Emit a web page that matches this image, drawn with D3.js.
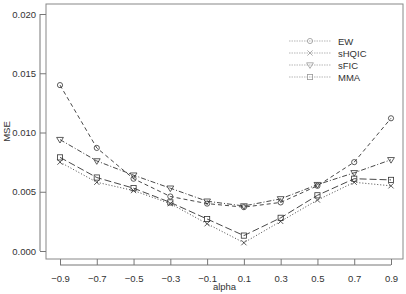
<!DOCTYPE html>
<html>
<head>
<meta charset="utf-8">
<script src="https://cdn.jsdelivr.net/npm/d3@7"></script>
<style>
  body { margin: 0; background: #fff; }
  text { font-family: "Liberation Sans", Arial, sans-serif; }
</style>
</head>
<body>
<div id="chart"></div>
<script>
// values
const alphas = [-0.9, -0.7, -0.5, -0.3, -0.1, 0.1, 0.3, 0.5, 0.7, 0.9];
const ew    = [0.0140, 0.0087, 0.0061, 0.0046, 0.0040, 0.0037, 0.0041, 0.0055, 0.0075, 0.0112];
const shqic = [0.0075, 0.0058, 0.0051, 0.0040, 0.0023, 0.0007, 0.0025, 0.0043, 0.0058, 0.0055];
const sfic  = [0.0094, 0.0076, 0.0064, 0.0053, 0.0042, 0.0038, 0.0044, 0.0056, 0.0066, 0.0077];
const mma   = [0.0079, 0.0062, 0.0053, 0.0041, 0.0027, 0.0013, 0.0028, 0.0047, 0.0061, 0.0060];
const seriesNames = ["EW", "sHQIC", "sFIC", "MMA"];
const yTicks = [0, 0.005, 0.010, 0.015, 0.020];

const series = [
    { name: "EW", values: ew, dash: "4,3", symbol: "circle" },
    { name: "sHQIC", values: shqic, dash: "1,2", symbol: "cross" },
    { name: "sFIC", values: sfic, dash: "5,2,1,2", symbol: "triangle" },
    { name: "MMA", values: mma, dash: "7,3", symbol: "square" }
];

const width = 406, height = 294;
const box = { left: 46, right: 403, top: 4, bottom: 259 };
const ink = "#333";
const axisCol = "#777";

const svg = d3.select("#chart").append("svg")
    .attr("width", width)
    .attr("height", height);

const x = d3.scaleLinear().domain([-0.9, 0.9]).range([60, 391]);
const y = d3.scaleLinear().domain([0, 0.020]).range([251, 14]);

// plot frame
svg.append("rect")
    .attr("x", box.left).attr("y", box.top)
    .attr("width", box.right - box.left).attr("height", box.bottom - box.top)
    .attr("fill", "none").attr("stroke", "#888").attr("stroke-width", 1);

// y axis
const yAxis = svg.append("g")
    .attr("transform", `translate(${box.left - 6},0)`)
    .call(d3.axisLeft(y).tickValues(yTicks).tickFormat(d3.format(".3f")).tickSize(6).tickPadding(4));
yAxis.select(".domain").remove();
yAxis.selectAll(".tick line").attr("stroke", axisCol).attr("transform", "translate(6,0)");
yAxis.selectAll(".tick text").attr("transform", "translate(6,0)")
    .attr("fill", ink).style("font-size", "9.5px");
svg.append("line")
    .attr("x1", box.left - 6).attr("x2", box.left - 6)
    .attr("y1", y(0)).attr("y2", y(0.020))
    .attr("stroke", axisCol);

// x axis
const xAxis = svg.append("g")
    .attr("transform", `translate(0,${box.bottom + 6})`)
    .call(d3.axisBottom(x).tickValues(alphas).tickFormat(d3.format(".1f")).tickSize(6).tickPadding(4));
xAxis.select(".domain").remove();
xAxis.selectAll(".tick line").attr("stroke", axisCol).attr("y1", 0).attr("y2", -6);
xAxis.selectAll(".tick text").attr("fill", ink).style("font-size", "9.5px");
svg.append("line")
    .attr("x1", x(-0.9)).attr("x2", x(0.9))
    .attr("y1", box.bottom + 6).attr("y2", box.bottom + 6)
    .attr("stroke", axisCol);

// axis titles
svg.append("text")
    .attr("x", (box.left + box.right) / 2).attr("y", 290)
    .attr("text-anchor", "middle").attr("fill", ink)
    .style("font-size", "9.5px").text("alpha");
svg.append("text")
    .attr("transform", `translate(10,${(box.top + box.bottom) / 2}) rotate(-90)`)
    .attr("text-anchor", "middle").attr("fill", ink)
    .style("font-size", "9.5px").text("MSE");

// symbol drawer
function drawSymbol(g, kind, cx, cy, col) {
    const s = 2.6;
    if (kind === "circle") {
        g.append("circle").attr("cx", cx).attr("cy", cy).attr("r", s)
            .attr("fill", "none").attr("stroke", col).attr("stroke-width", 0.8);
    } else if (kind === "cross") {
        g.append("path")
            .attr("d", `M${cx - s},${cy - s}L${cx + s},${cy + s}M${cx - s},${cy + s}L${cx + s},${cy - s}`)
            .attr("stroke", col).attr("stroke-width", 0.8);
    } else if (kind === "triangle") {
        g.append("path")
            .attr("d", `M${cx - 3.4},${cy - 2.2}L${cx + 3.4},${cy - 2.2}L${cx},${cy + 3.4}Z`)
            .attr("fill", "none").attr("stroke", col).attr("stroke-width", 0.8);
    } else {
        g.append("rect").attr("x", cx - s).attr("y", cy - s)
            .attr("width", 2 * s).attr("height", 2 * s)
            .attr("fill", "none").attr("stroke", col).attr("stroke-width", 0.8);
    }
}

const line = d3.line().x((d, i) => x(alphas[i])).y(d => y(d));

series.forEach(s => {
    const g = svg.append("g");
    g.append("path")
        .datum(s.values)
        .attr("d", line)
        .attr("fill", "none")
        .attr("stroke", ink)
        .attr("stroke-width", 0.9)
        .attr("stroke-dasharray", s.dash);
    s.values.forEach((v, i) => drawSymbol(g, s.symbol, x(alphas[i]), y(v), ink));
});

// legend
const legend = svg.append("g");
seriesNames.forEach((name, i) => {
    const s = series.find(d => d.name === name);
    const ly = 41 + i * 12;
    legend.append("line")
        .attr("x1", 289).attr("x2", 331).attr("y1", ly).attr("y2", ly)
        .attr("stroke", "#999").attr("stroke-width", 0.7)
        .attr("stroke-dasharray", "1.5,1");
    drawSymbol(legend, s.symbol, 310, ly, "#999");
    legend.append("text")
        .attr("x", 338).attr("y", ly + 3.5)
        .attr("fill", ink).style("font-size", "9.5px")
        .text(name);
});
</script>
</body>
</html>
